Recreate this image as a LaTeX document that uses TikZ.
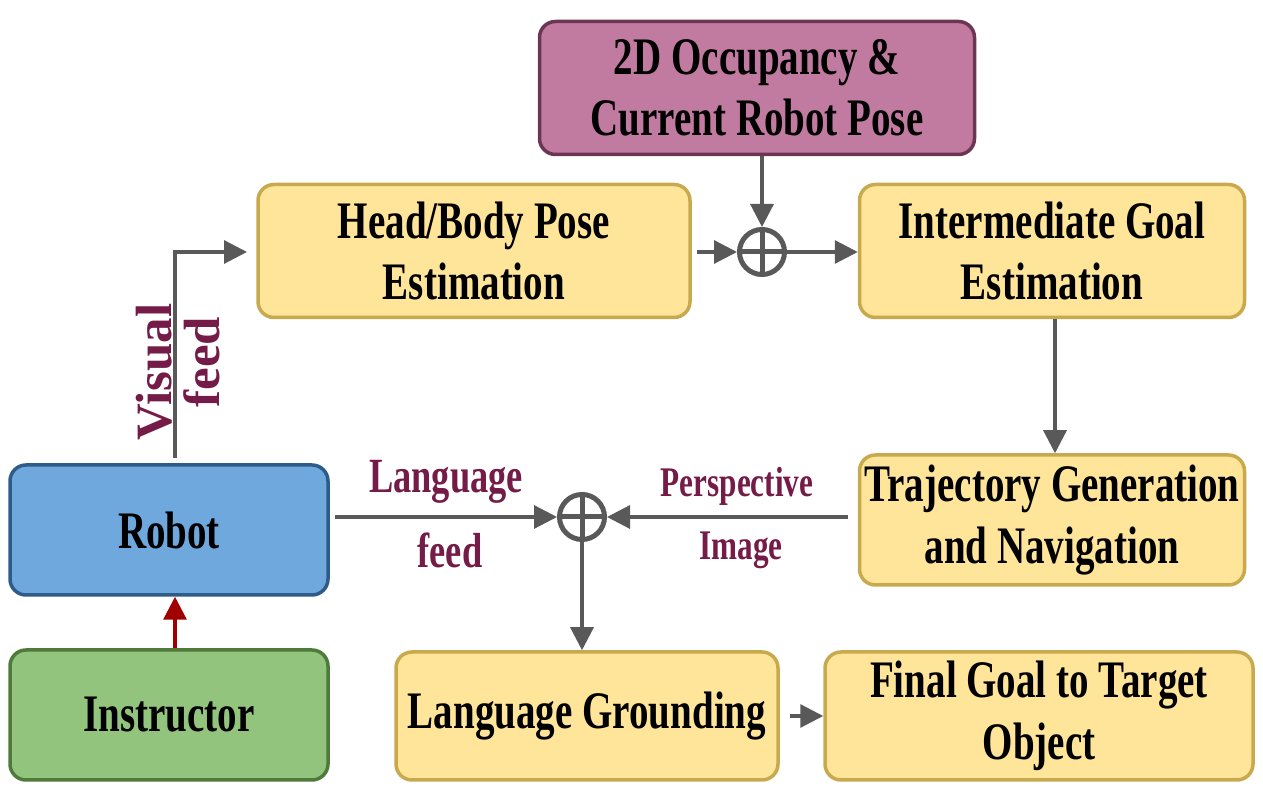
\documentclass[tikz,border=0pt]{standalone}
\usepackage{fontspec}
\setmainfont{Liberation Serif}[FakeStretch=0.74]
\newfontfamily\vertfont{Liberation Serif}
\usetikzlibrary{arrows.meta}
\definecolor{occfill}{HTML}{C27BA0}
\definecolor{occline}{HTML}{6B3553}
\definecolor{yfill}{HTML}{FFE599}
\definecolor{yline}{HTML}{C9A94E}
\definecolor{bfill}{HTML}{6FA8DC}
\definecolor{bline}{HTML}{2E5C8A}
\definecolor{gfill}{HTML}{93C47D}
\definecolor{gline}{HTML}{4E7A3A}
\definecolor{arrgray}{HTML}{595959}
\definecolor{lblcol}{HTML}{741B47}
\definecolor{redarr}{HTML}{A00000}
\begin{document}
\begin{tikzpicture}[x=0.1mm, y=-0.1mm,
    box/.style={draw, line width=0.35mm, rounded corners=1.6mm, align=center,
        font=\fontsize{15}{17.5}\selectfont\bfseries, inner sep=0pt},
    sum/.style={draw=arrgray, line width=0.5mm, circle, minimum size=4.5mm, inner sep=0pt},
    arr/.style={draw=arrgray, line width=0.32mm, -{Triangle[length=2.3mm, width=2.3mm]}},
    lbl/.style={text=lblcol, font=\fontsize{14}{16}\selectfont\bfseries},
    vlbl/.style={text=lblcol, rotate=90, font=\vertfont\fontsize{14.5}{16}\selectfont\bfseries}]
    \useasboundingbox (0,0) rectangle (1263,791);

    % top row
    \node[box, fill=occfill, draw=occline, minimum width=43.5mm, minimum height=13.3mm]
        (occ) at (757,88) {2D Occupancy \&\\Current Robot Pose};
    \node[box, fill=yfill, draw=yline, minimum width=43.2mm, minimum height=13.3mm]
        (head) at (474,251) {Head/Body Pose\\Estimation};
    \node[box, fill=yfill, draw=yline, minimum width=38.5mm, minimum height=13.3mm]
        (inter) at (1052,251) {Intermediate Goal\\Estimation};
    \node[sum] (sumA) at (762,252) {};

    % middle row
    \node[box, fill=bfill, draw=bline, minimum width=31.8mm, minimum height=13mm]
        (robot) at (169,530) {Robot};
    \node[box, fill=yfill, draw=yline, minimum width=38.5mm, minimum height=13mm]
        (traj) at (1052,520) {Trajectory Generation\\and Navigation};
    \node[sum] (sumB) at (582,517) {};

    % bottom row
    \node[box, fill=gfill, draw=gline, minimum width=31.8mm, minimum height=13mm]
        (instr) at (169,715) {Instructor};
    \node[box, fill=yfill, draw=yline, minimum width=38.2mm, minimum height=12.8mm]
        (lang) at (587,716) {Language Grounding};
    \node[box, fill=yfill, draw=yline, minimum width=42.8mm, minimum height=12.8mm]
        (final) at (1039,716) {Final Goal to Target\\Object};

    % plus signs
    \draw[arrgray, line width=0.5mm] (sumA.north) -- (sumA.south) (sumA.west) -- (sumA.east);
    \draw[arrgray, line width=0.5mm] (sumB.north) -- (sumB.south) (sumB.west) -- (sumB.east);

    % connectors
    \coordinate (vfStart) at (175,458);
    \coordinate (vfEnd) at (247,252);
    \draw[arr] (vfStart) |- (vfEnd);
    \draw[arr] (occ.south -| sumA) -- (sumA.north);
    \draw[arr] (head.east |- sumA) ++(5,0) -- (sumA.west);
    \draw[arr] (sumA.east) -- (inter.west |- sumA);
    \draw[arr] (inter.south -| 1055,0) -- (traj.north -| 1055,0);
    \draw[arr] (robot.east |- sumB) ++(5,0) -- (sumB.west);
    \draw[arr] (traj.west |- sumB) ++(-10,0) -- (sumB.east);
    \draw[arr] (sumB.south) -- (lang.north -| sumB);
    \draw[arr] (lang.east) ++(10,0) -- (final.west);
    \draw[draw=redarr, line width=0.32mm, -{Triangle[length=2.3mm, width=2.3mm]}]
        (instr.north -| vfStart) -- (robot.south -| vfStart);

    % labels
    \node[vlbl] (lblVisual) at (154,372) {Visual};
    \node[vlbl] (lblFeedA) at (202,362) {feed};
    \node[lbl] (lblLang) at (446,482) {Language};
    \node[lbl] (lblFeedB) at (450,550) {feed};
    \node[lbl, font=\fontsize{12}{14}\selectfont\bfseries] (lblPersp) at (737,486) {Perspective};
    \node[lbl, font=\fontsize{12}{14}\selectfont\bfseries] (lblImage) at (741,550) {Image};
\end{tikzpicture}
\end{document}
